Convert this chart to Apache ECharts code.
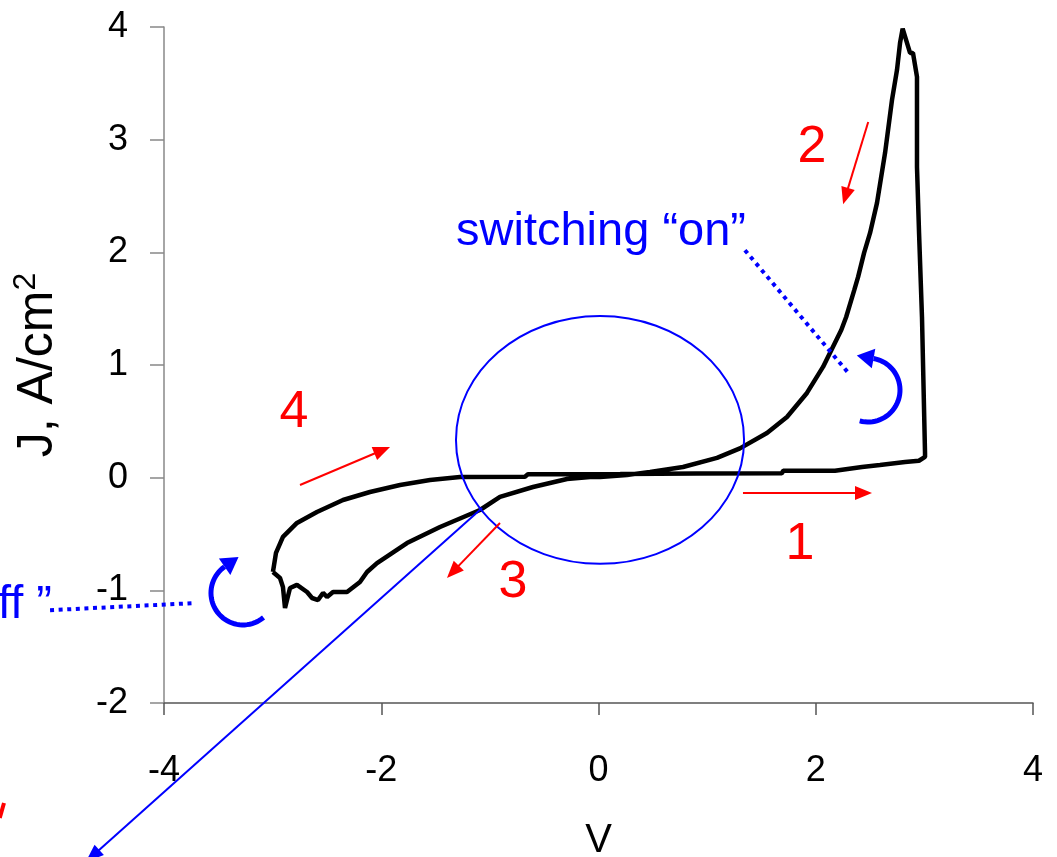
<!DOCTYPE html>
<html lang="en">
<head>
<meta charset="UTF-8">
<title>J-V switching loop</title>
<style>html,body{margin:0;padding:0;background:#fff;}</style>
</head>
<body>
<div id="main" style="width:1057px;height:857px;"></div>
<script src="https://cdn.jsdelivr.net/npm/echarts@6/dist/echarts.min.js"></script>
<script>
var voltage = [
  -2.997,-2.969,-2.905,-2.776,-2.592,-2.352,-2.104,-1.827,-1.551,-1.275,-0.677,-0.650,
  0.200,0.900,1.689,1.700,2.177,2.190,2.426,2.591,2.822,2.950,3.006,3.024,
  3.006,2.978,2.951,2.932,2.932,2.895,2.868,2.840,2.800,
  2.776,2.748,2.702,2.638,2.564,2.500,2.445,2.390,2.355,2.280,2.235,2.067,1.919,1.735,1.551,1.302,
  1.091,0.778,0.474,0.262,0.014,-0.078,-0.290,-0.603,-0.907,-1.091,-1.459,-1.763,-2.039,
  -2.131,-2.196,-2.315,-2.444,-2.499,-2.536,-2.582,-2.637,-2.683,-2.776,-2.840,-2.886,-2.905,-2.932,-2.997
];
var current = [
  -0.837,-0.668,-0.526,-0.402,-0.305,-0.198,-0.127,-0.065,-0.020,0.006,0.009,0.030,
  0.032,0.036,0.039,0.062,0.062,0.077,0.095,0.113,0.139,0.150,0.184,0.190,
  0.219,1.426,2.172,2.758,3.557,3.770,3.770,3.859,3.985,
  3.859,3.619,3.353,2.882,2.439,2.172,1.995,1.782,1.666,1.426,1.311,0.983,0.752,0.539,0.397,0.260,
  0.175,0.095,0.051,0.024,0.006,0.006,-0.012,-0.083,-0.171,-0.287,-0.438,-0.580,-0.758,
  -0.837,-0.926,-1.015,-1.015,-1.059,-1.023,-1.086,-1.068,-1.015,-0.952,-0.979,-1.157,-0.970,-0.890,-0.837
];

// annotation positions (data coords)
var redLabels = [['1', 1.855, -0.597], ['2', 1.966, 2.926], ['3', -0.787, -0.935], ['4', -2.803, 0.574]];
var redArrows = [
  [[1.330, -0.136], [2.518, -0.136]],
  [[2.483, 3.157], [2.252, 2.427]],
  [[-0.907, -0.402], [-1.395, -0.890]],
  [[-2.748, -0.065], [-1.919, 0.273]]
];
var onText = ['switching \u201Con\u201D', 0.023, 2.181];
var offText = ['switching \u201Coff \u201D', -5.031, -1.131];
var dottedLines = [[[1.348, 2.019], [2.297, 0.933]], [[-5.049, -1.176], [-3.733, -1.114]]];
var ellipse = {c: [0.014, 0.335], rx: 1.326, ry: 1.10};
var longLine = [[-1.072, -0.269], [-4.72, -3.41]];
// curved arrows: centre (data), radius px, start/end angle (deg, screen)
var curls = [
  {c: [2.481, 0.778], r: 32, a0: 105, a1: -80},
  {c: [-3.273, -1.023], r: 32, a0: 50, a1: 235}
];

var chart = echarts.init(document.getElementById('main'));
var font = 'Liberation Sans, Arial, sans-serif';

var data = [];
for (var i = 0; i < voltage.length; i++) data.push([voltage[i], current[i]]);

chart.setOption({
  animation: false,
  backgroundColor: '#fff',
  grid: {left: 164, right: 24, top: 27, bottom: 154, containLabel: false, outerBoundsMode: 'none'},
  xAxis: {
    type: 'value', min: -4, max: 4, interval: 2,
    name: 'V', nameLocation: 'middle', nameGap: 118,
    nameTextStyle: {color: '#000', fontSize: 40, fontFamily: font},
    axisLine: {onZero: false, lineStyle: {color: '#555', width: 1.5}},
    axisTick: {show: true, inside: false, length: 12, lineStyle: {color: '#555', width: 1.5}},
    axisLabel: {color: '#000', fontSize: 36, fontFamily: font, margin: 50},
    splitLine: {show: false}
  },
  yAxis: {
    type: 'value', min: -2, max: 4, interval: 1,
    name: '{a|J, A/cm}{b|2}', nameLocation: 'middle', nameGap: 98, nameRotate: 90,
    nameTextStyle: {
      color: '#000', fontSize: 50, fontFamily: font,
      rich: {
        a: {fontSize: 50, fontFamily: font, color: '#000'},
        b: {fontSize: 32, fontFamily: font, color: '#000', padding: [0, 0, 24, 0]}
      }
    },
    axisLine: {onZero: false, lineStyle: {color: '#888', width: 1.5}},
    axisTick: {show: true, inside: false, length: 14, lineStyle: {color: '#888', width: 1.5}},
    axisLabel: {color: '#000', fontSize: 36, fontFamily: font, margin: 36},
    splitLine: {show: false}
  },
  series: [{
    type: 'line', data: data, showSymbol: false, symbol: 'none',
    lineStyle: {color: '#000', width: 4.5}, z: 2
  }]
});

function px(pt) { return chart.convertToPixel({seriesIndex: 0}, pt); }

function arrowEls(p, q, color, w, hl, hw) {
  var dx = q[0] - p[0], dy = q[1] - p[1];
  var L = Math.sqrt(dx * dx + dy * dy), ux = dx / L, uy = dy / L;
  var b = [q[0] - ux * hl, q[1] - uy * hl];
  return [
    {type: 'line', z: 10, shape: {x1: p[0], y1: p[1], x2: b[0] + ux * 2, y2: b[1] + uy * 2},
      style: {stroke: color, lineWidth: w}},
    {type: 'polygon', z: 10, shape: {points: [q, [b[0] - uy * hw / 2, b[1] + ux * hw / 2], [b[0] + uy * hw / 2, b[1] - ux * hw / 2]]},
      style: {fill: color}}
  ];
}

var els = [];

// ellipse
var ec = px(ellipse.c);
var erx = px([ellipse.c[0] + ellipse.rx, ellipse.c[1]])[0] - ec[0];
var ery = ec[1] - px([ellipse.c[0], ellipse.c[1] + ellipse.ry])[1];
els.push({type: 'ellipse', z: 10, shape: {cx: ec[0], cy: ec[1], rx: erx, ry: ery},
  style: {fill: 'none', stroke: '#0000ff', lineWidth: 2}});

// long blue line with arrow
els = els.concat(arrowEls(px(longLine[0]), px(longLine[1]), '#0000ff', 2, 18, 14));

// red arrows
redArrows.forEach(function (a) {
  els = els.concat(arrowEls(px(a[0]), px(a[1]), '#ff0000', 2, 17, 14));
});

// red stroke at bottom left
var rs0 = px([-5.473, -2.887]), rs1 = px([-5.512, -3.02]);
els.push({type: 'line', z: 10, shape: {x1: rs0[0], y1: rs0[1], x2: rs1[0], y2: rs1[1]},
  style: {stroke: '#ff0000', lineWidth: 4}});

// dotted leader lines
dottedLines.forEach(function (d) {
  var a = px(d[0]), b = px(d[1]);
  els.push({type: 'line', z: 10, shape: {x1: a[0], y1: a[1], x2: b[0], y2: b[1]},
    style: {stroke: '#0000ff', lineWidth: 4, lineDash: [4, 4.6]}});
});

// curved blue arrows
curls.forEach(function (c) {
  var cc = px(c.c), pts = [], n = 40;
  for (var k = 0; k <= n; k++) {
    var t = (c.a0 + (c.a1 - c.a0) * k / n) * Math.PI / 180;
    pts.push([cc[0] + c.r * Math.cos(t), cc[1] + c.r * Math.sin(t)]);
  }
  var te = c.a1 * Math.PI / 180, sgn = c.a1 > c.a0 ? 1 : -1;
  var tx = -Math.sin(te) * sgn, ty = Math.cos(te) * sgn;
  var e = pts[pts.length - 1];
  var tip = [e[0] + tx * 17, e[1] + ty * 17];
  els.push({type: 'polyline', z: 10, shape: {points: pts},
    style: {stroke: '#0000ff', lineWidth: 5, fill: 'none'}});
  var hw = 20;
  els.push({type: 'polygon', z: 10, shape: {points: [tip,
    [e[0] - ty * hw / 2, e[1] + tx * hw / 2], [e[0] + ty * hw / 2, e[1] - tx * hw / 2]]},
    style: {fill: '#0000ff'}});
});

// texts
redLabels.forEach(function (l) {
  var p = px([l[1], l[2]]);
  els.push({type: 'text', z: 11, x: p[0], y: p[1],
    style: {text: l[0], fill: '#ff0000', font: '52px ' + font, align: 'center', verticalAlign: 'middle'}});
});
var po = px([onText[1], onText[2]]);
els.push({type: 'text', z: 11, x: po[0], y: po[1],
  style: {text: onText[0], fill: '#0000ff', font: '47px ' + font, align: 'center', verticalAlign: 'middle'}});
var pf = px([offText[1], offText[2]]);
els.push({type: 'text', z: 11, x: pf[0], y: pf[1],
  style: {text: offText[0], fill: '#0000ff', font: '47px ' + font, align: 'right', verticalAlign: 'middle'}});

chart.setOption({graphic: els});
</script>
</body>
</html>
